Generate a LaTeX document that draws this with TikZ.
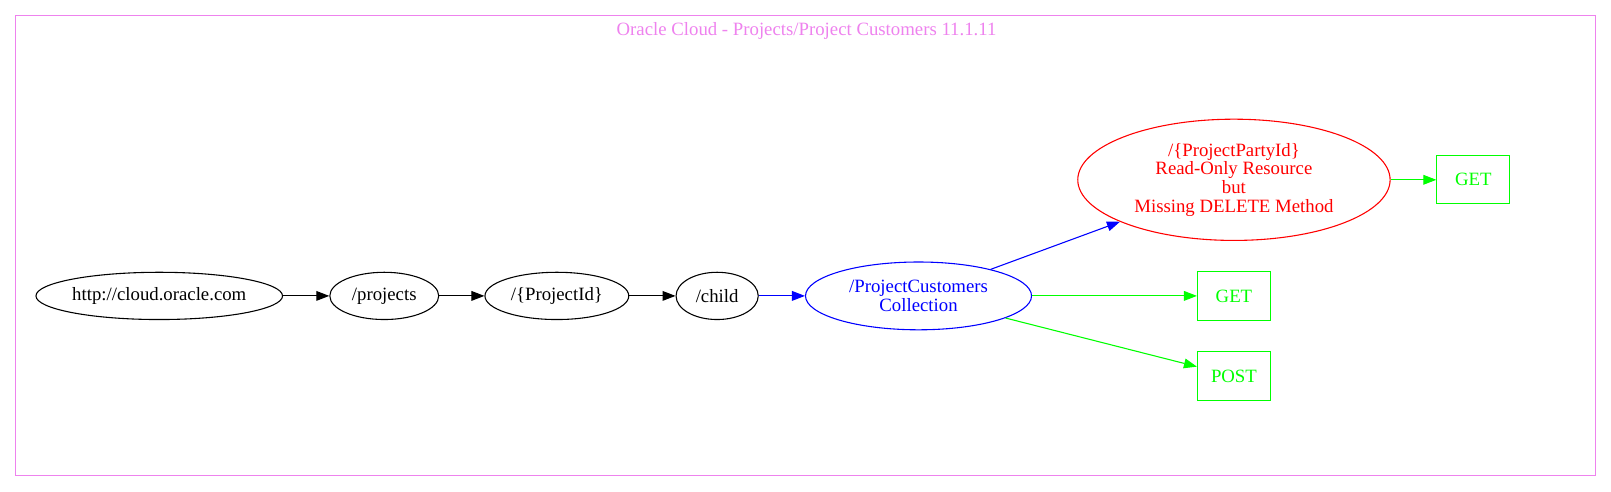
\documentclass[tikz,border=0pt]{standalone}
\usepackage{fontspec}
\setmainfont{Liberation Serif}
\usepackage{tikz}
\usetikzlibrary{shapes.geometric, arrows.meta}

\definecolor{violetframe}{HTML}{EE82EE}
\definecolor{pureGreen}{HTML}{00FF00}

\begin{document}
\begin{tikzpicture}[x=0.02cm, y=-0.02cm, line width=0.6pt,
    font=\fontsize{10.4}{10.4}\selectfont,
    res/.style={ellipse, draw, inner sep=0pt, align=center},
    verb/.style={rectangle, draw=pureGreen, text=pureGreen, minimum width=71*0.02cm, minimum height=47*0.02cm, inner sep=0pt},
    edge/.style={-{Triangle[length=7.2pt, width=5.4pt]}}]
    \useasboundingbox (0,0) rectangle (1568,478);

    % Frame and title
    \draw[violetframe] (15,15) rectangle (1553,463);
    \node[violetframe] (title) at (785,30) {Oracle Cloud - Projects/Project Customers 11.1.11};

    % Path to the collection
    \node[res, minimum width=240*0.02cm, minimum height=46*0.02cm] (root) at (155,288) {http://cloud.oracle.com};
    \node[res, minimum width=106*0.02cm, minimum height=46*0.02cm] (projects) at (374,288) {/projects};
    \node[res, minimum width=140*0.02cm, minimum height=46*0.02cm] (projectid) at (542,288) {/\{ProjectId\}};
    \node[res, minimum width=80*0.02cm, minimum height=46*0.02cm] (child) at (698,288) {/child};

    % Collection and its item
    \node[res, blue, minimum width=220*0.02cm, minimum height=66*0.02cm] (customers) at (894,288) {/ProjectCustomers\\Collection};
    \node[res, red, minimum width=304*0.02cm, minimum height=118*0.02cm] (partyid) at (1201,175) {/\{ProjectPartyId\}\\Read-Only Resource\\but\\Missing DELETE Method};

    % Methods
    \node[verb] (partyget) at (1434,175) {GET};
    \node[verb] (custget) at (1201,288) {GET};
    \node[verb] (custpost) at (1201,366) {POST};

    % Connectors
    \draw[edge] (root) -- (projects);
    \draw[edge] (projects) -- (projectid);
    \draw[edge] (projectid) -- (child);
    \draw[edge, blue] (child) -- (customers);
    \draw[edge, blue] (customers) -- (partyid);
    \draw[edge, pureGreen] (partyid) -- (partyget);
    \draw[edge, pureGreen] (customers) -- (custget);
    \draw[edge, pureGreen] (customers) -- (custpost);
\end{tikzpicture}
\end{document}
